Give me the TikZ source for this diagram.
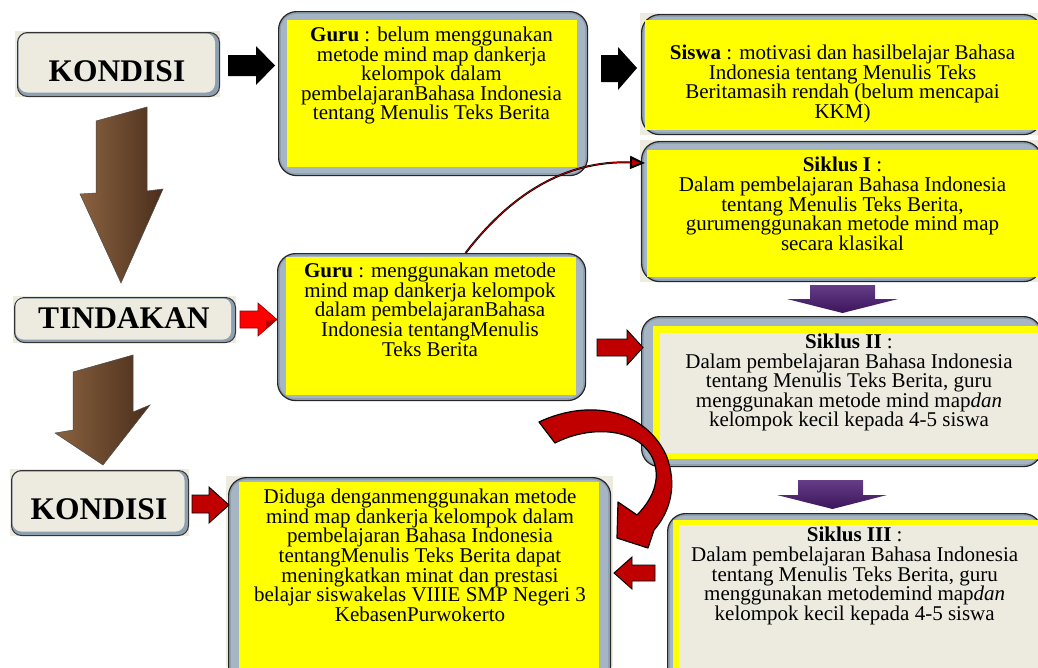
\documentclass[tikz,border=0pt]{standalone}
\usepackage{fontspec}
\setmainfont{Liberation Serif}
\usetikzlibrary{arrows.meta,calc}
\definecolor{beige}{HTML}{EDEBE0}
\definecolor{framec}{HTML}{8E9FB0}
\definecolor{framein}{HTML}{A6B5C4}
\definecolor{ylw}{HTML}{FFFF00}
\definecolor{dred}{HTML}{C00000}
\definecolor{purp}{HTML}{4A1A72}
\definecolor{brownA}{HTML}{8A6240}
\definecolor{brownB}{HTML}{4A2E1B}
\begin{document}
\begin{tikzpicture}[x=1pt,y=-1pt,
  framebox/.style={draw=black!85, line width=1.2pt, fill=framec, rounded corners=18pt, inner sep=0pt, anchor=north west},
  headbox/.style={draw=black!80, line width=1pt, fill=framec, rounded corners=10pt, inner sep=0pt, anchor=north west},
  txt/.style={font=\fontsize{21}{19.6}\selectfont, align=center, inner sep=0pt, anchor=north},
  headtxt/.style={font=\fontsize{31.5}{34}\selectfont\bfseries, inner sep=0pt, anchor=base},
  blackarrow/.style={fill=black},
  redarrow/.style={fill=dred, draw=black, line width=0.9pt, line join=miter},
  brightarrow/.style={fill=red, draw=red!55!black, line width=0.6pt},
  purparrow/.style={top color=purp!85!white, bottom color=purp!80!black},
  brownarrow/.style={left color=brownA, right color=brownB, draw=black!70, line width=0.5pt}
]
\useasboundingbox (0,0) rectangle (1038,667);
\begin{scope}
\clip (0,0) rectangle (1038,667);
\fill[white] (0,0) rectangle (1038,667);

% ---------- background beige rectangles
\fill[beige] (15,31) rectangle (220,97);
\fill[beige] (13,296) rectangle (236,343);
\fill[beige] (10,469) rectangle (189,536);
\fill[beige] (640,13) rectangle (1038,135);
\fill[beige] (640,140) rectangle (1038,282);
\fill[beige] (226,476) rectangle (613,667);

% ---------- header boxes
\node[headbox, minimum width=202pt, minimum height=64pt] (kon1) at (17,32) {};
\fill[beige, rounded corners=9pt] ($(kon1.north west)+(1.5,1.5)$) rectangle ($(kon1.south east)+(-5,-4.5)$);
\node[headtxt] (kon1t) at (117,81) {KONDISI};

\node[headbox, minimum width=221pt, minimum height=45pt] (tin) at (14,297) {};
\fill[beige, rounded corners=8pt] ($(tin.north west)+(1.5,1.5)$) rectangle ($(tin.south east)+(-5,-3.5)$);
\node[headtxt] (tint) at (124,328) {TINDAKAN};

\node[headbox, minimum width=177pt, minimum height=65pt] (kon2) at (11,470) {};
\fill[beige, rounded corners=9pt] ($(kon2.north west)+(1.5,1.5)$) rectangle ($(kon2.south east)+(-4.5,-4.5)$);
\node[headtxt] (kon2t) at (99,519) {KONDISI};

% ---------- content frames
\node[framebox, minimum width=309pt, minimum height=164pt] (gur1) at (278,11) {};
\node[framebox, minimum width=400pt, minimum height=120pt] (sis) at (641,14) {};
\node[framebox, minimum width=400pt, minimum height=140pt] (sk1) at (641,141) {};
\node[framebox, minimum width=308pt, minimum height=147pt] (gur2) at (277,253) {};
\node[framebox, minimum width=400pt, minimum height=150pt] (sk2) at (641,316) {};
\node[framebox, minimum width=374pt, minimum height=180pt] (sk3) at (667,513) {};
\node[framebox, minimum width=382pt, minimum height=210pt] (dug) at (228,477) {};
\foreach \n in {gur1,sis,sk1,gur2,sk2,sk3,dug}{
  \fill[framein, rounded corners=15pt] ($(\n.north west)+(3,3)$) rectangle ($(\n.south east)+(-3,-3)$);
}

% ---------- inner fills
\fill[ylw] (287,20) rectangle (577,167);
\fill[ylw] (645,20) rectangle (1045,130);
\fill[ylw] (647,150) rectangle (1045,277);
\fill[ylw] (286,257) rectangle (576,395);
\fill[ylw] (653,326) rectangle (1045,459);
\fill[beige] (660,333) rectangle (1045,453);
\fill[ylw] (673,520) rectangle (1045,700);
\fill[beige] (679,525) rectangle (1045,700);
\fill[ylw] (239,482) rectangle (599,700);

% ---------- texts
\node[txt] (gur1t) at (431.5,26.7) {\textbf{Guru} : belum menggunakan\\metode mind map dankerja\\kelompok dalam\\pembelajaranBahasa Indonesia\\tentang Menulis Teks Berita};
\node[txt] (sist) at (842.5,45) {\textbf{Siswa} : motivasi dan hasilbelajar Bahasa\\Indonesia tentang Menulis Teks\\Beritamasih rendah (belum mencapai\\KKM)};
\node[txt] (sk1t) at (842.5,157.2) {\textbf{Siklus I} :\\Dalam pembelajaran Bahasa Indonesia\\tentang Menulis Teks Berita,\\gurumenggunakan metode mind map\\secara klasikal};
\node[txt] (gur2t) at (430,263) {\textbf{Guru} : menggunakan metode\\mind map dankerja kelompok\\dalam pembelajaranBahasa\\Indonesia tentangMenulis\\Teks Berita};
\node[txt] (sk2t) at (849,333.8) {\textbf{Siklus II} :\\Dalam pembelajaran Bahasa Indonesia\\tentang Menulis Teks Berita, guru\\menggunakan metode mind map\textit{dan}\\kelompok kecil kepada 4-5 siswa};
\node[txt] (sk3t) at (854.7,527.2) {\textbf{Siklus III} :\\Dalam pembelajaran Bahasa Indonesia\\tentang Menulis Teks Berita, guru\\menggunakan metodemind map\textit{dan}\\kelompok kecil kepada 4-5 siswa};
\node[txt] (dugt) at (420,489) {Diduga denganmenggunakan metode\\mind map dankerja kelompok dalam\\pembelajaran Bahasa Indonesia\\tentangMenulis Teks Berita dapat\\meningkatkan minat dan prestasi\\belajar siswakelas VIIIE SMP Negeri 3\\KebasenPurwokerto};

% ---------- block arrows
\fill[blackarrow] (228,55) -- (256,55) -- (256,46) -- (275,65.5) -- (256,85) -- (256,76) -- (228,76) -- cycle;
\fill[blackarrow] (601,55) -- (618,55) -- (618,47) -- (637,68) -- (618,90) -- (618,82) -- (601,82) -- cycle;

\path[brownarrow] (96,121) -- (147,107) -- (147,191) -- (163,189) -- (121,283) -- (80,194) -- (96,193) -- cycle;
\path[brownarrow] (73,372) -- (133,355) -- (133,412) -- (150,405) -- (103,465) -- (55,433) -- (73,430) -- cycle;

\path[brightarrow] (240,311) -- (258,311) -- (258,303) -- (277,319.5) -- (258,336) -- (258,328) -- (240,328) -- cycle;
\fill[red!70!black] (258,336) -- (277,319.5) -- (266,321) -- (266,329) -- cycle;

\path[redarrow] (597,339) -- (627,339) -- (627,330) -- (643,347.5) -- (627,365) -- (627,356) -- (597,356) -- cycle;
\path[redarrow] (192,495) -- (209,495) -- (209,487) -- (229,505) -- (209,523) -- (209,513) -- (192,513) -- cycle;
\path[redarrow] (655,565) -- (632,565) -- (632,557) -- (614,573) -- (632,589) -- (632,581) -- (655,581) -- cycle;

\path[purparrow] (810,285) -- (875,285) -- (875,299) -- (898,299) -- (842.5,313) -- (787,299) -- (810,299) -- cycle;
\path[purparrow] (798,480) -- (863,480) -- (863,495) -- (887,495) -- (832.5,509) -- (777,495) -- (798,495) -- cycle;

% ---------- big curved red arrow
\path[redarrow, line width=1.2pt, line join=round]
  (539,422) .. controls (590,398) and (645,410) .. (666,455)
  .. controls (678,485) and (670,512) .. (654,530)
  -- (648,548) -- (617,538) -- (618,502) -- (637,515)
  .. controls (655,497) and (662,475) .. (651,455)
  .. controls (635,428) and (590,425) .. (555,443) -- cycle;

% ---------- thin curved connector
\draw[line width=2pt, black, -{Triangle[length=15pt,width=13pt,fill=dred]}]
  ([xshift=34pt]gur2.north) .. controls (510,195) and (565,160) .. ([xshift=4pt,yshift=-22pt]sk1.north west);
\draw[line width=0.7pt, dred, shorten >=15pt]
  ([xshift=34pt]gur2.north) .. controls (510,195) and (565,160) .. ([xshift=4pt,yshift=-22pt]sk1.north west);
\end{scope}
\end{tikzpicture}
\end{document}
